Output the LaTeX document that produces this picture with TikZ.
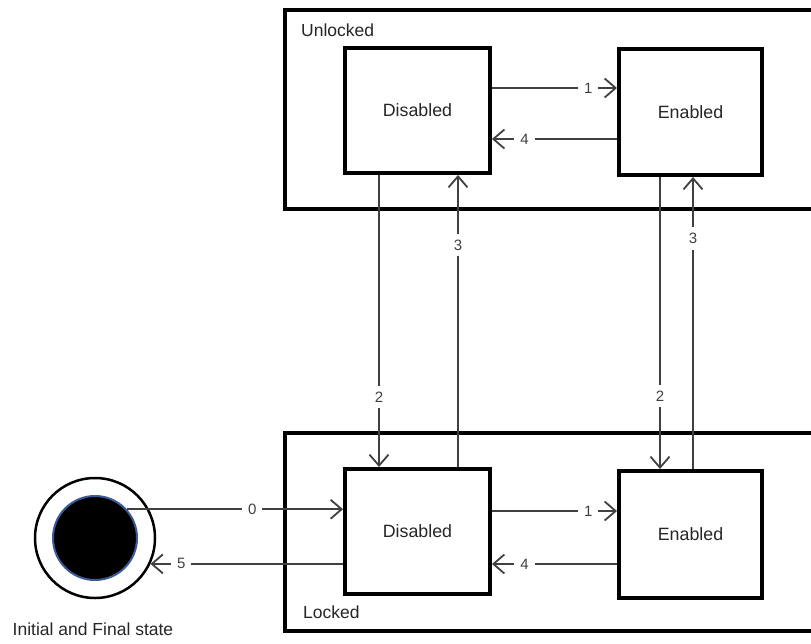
\documentclass[tikz,border=0pt]{standalone}
\usepackage{fontspec}
\setmainfont{Liberation Sans}
\usetikzlibrary{arrows.meta}
\begin{document}
\begin{tikzpicture}[x=1pt,y=-1pt,
  statebox/.style={draw=black,fill=white,line width=4pt,inner sep=0pt,font=\fontsize{17.8}{21}\selectfont,text=black!85},
  groupbox/.style={draw=black,line width=4pt,inner sep=0pt},
  conn/.style={draw=black!75,line width=1.8pt,-{Straight Barb[length=11pt,width=19pt,line width=1.8pt]}},
  lbl/.style={fill=white,inner sep=6pt,font=\fontsize{15}{17}\selectfont,text=black!75},
  grouplbl/.style={font=\fontsize{17.5}{20}\selectfont,text=black!85,inner sep=0pt,anchor=west}]
\useasboundingbox (0,0) rectangle (811,643);
\clip (0,0) rectangle (811,643);
\fill[white] (0,0) rectangle (811,643);
% groups
\node[groupbox,minimum width=555pt,minimum height=199pt] (unlocked) at (562.5,109.5) {};
\node[groupbox,minimum width=555pt,minimum height=198pt] (locked) at (562.5,532) {};
\node[grouplbl] (unlockedlbl) at (301,30) {Unlocked};
\node[grouplbl] (lockedlbl) at (303,612) {Locked};
% states
\node[statebox,minimum width=145pt,minimum height=125pt] (ud) at (417.5,110.5) {Disabled};
\node[statebox,minimum width=143pt,minimum height=126pt] (ue) at (690.5,112) {Enabled};
\node[statebox,minimum width=145pt,minimum height=125pt] (ld) at (417.5,531.5) {Disabled};
\node[statebox,minimum width=143pt,minimum height=127pt] (le) at (690.5,534.5) {Enabled};
% initial / final
\node[circle,draw=black,line width=2.5pt,minimum size=120pt,inner sep=0pt] (init) at (95,538) {};
\node[circle,fill=black,draw={rgb,255:red,60;green,90;blue,150},line width=2pt,minimum size=84pt,inner sep=0pt] (core) at (95,538) {};
\node[font=\fontsize{17.5}{20}\selectfont,text=black!85] (initlbl) at (93,629) {Initial and Final state};
% helper coordinates
\coordinate (yA) at (0,88);
\coordinate (yB) at (0,139);
\coordinate (yC) at (0,511);
\coordinate (yD) at (0,564);
\coordinate (xA) at (379,0);
\coordinate (xB) at (458,0);
\coordinate (xC) at (660,0);
\coordinate (xD) at (693,0);
% horizontal connectors
\draw[conn] (ud.east |- yA) -- node[lbl,pos=.77]{1} (ue.west |- yA);
\draw[conn] (ue.west |- yB) -- node[lbl,pos=.74]{4} (ud.east |- yB);
\draw[conn] (ld.east |- yC) -- node[lbl,pos=.77]{1} (le.west |- yC);
\draw[conn] (le.west |- yD) -- node[lbl,pos=.74]{4} (ld.east |- yD);
\draw[conn] (core.42) -- node[lbl,pos=.58]{0} (ld.west |- core.42);
\draw[conn] (ld.west |- init.-25) -- node[lbl,pos=.84]{5} (init.-25);
% vertical connectors
\draw[conn] (ud.south -| xA) -- node[lbl,pos=.76]{2} (ld.north -| xA);
\draw[conn] (ld.north -| xB) -- node[lbl,pos=.76]{3} (ud.south -| xB);
\draw[conn] (ue.south -| xC) -- node[lbl,pos=.75]{2} (le.north -| xC);
\draw[conn] (le.north -| xD) -- node[lbl,pos=.79]{3} (ue.south -| xD);
\end{tikzpicture}
\end{document}
